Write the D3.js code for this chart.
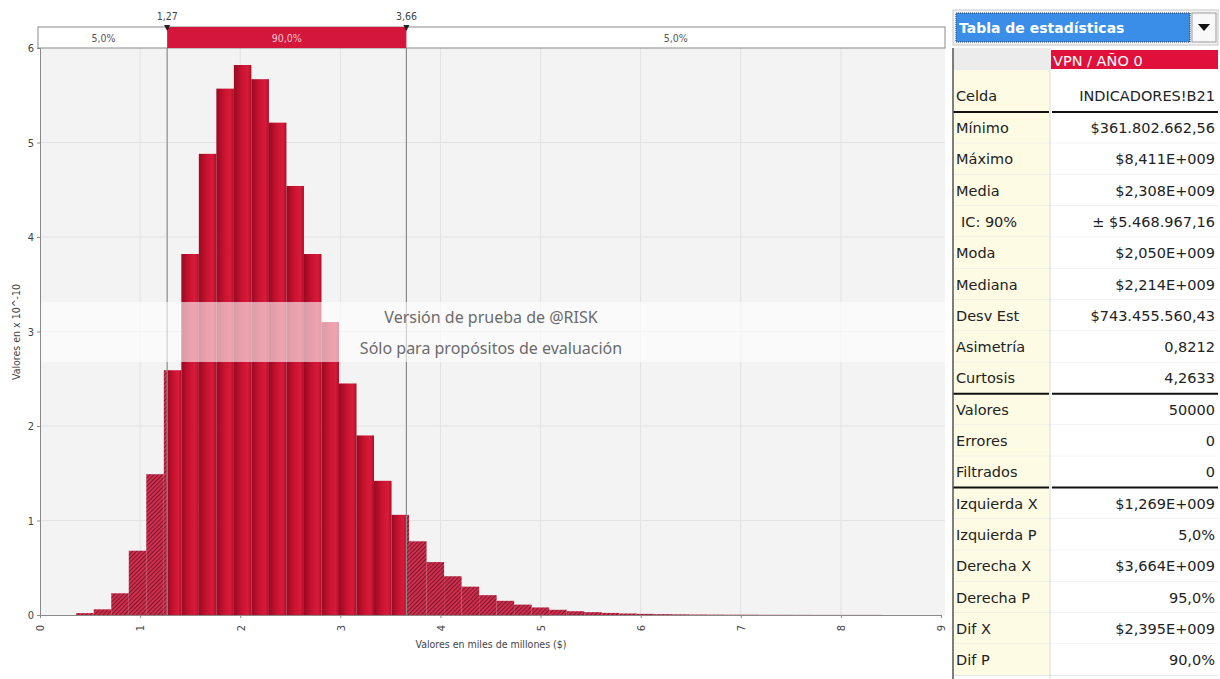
<!DOCTYPE html>
<html>
<head>
<meta charset="utf-8">
<script src="https://cdn.jsdelivr.net/npm/d3@7"></script>
<style>
body{margin:0;background:#fff;}
svg{display:block;}
</style>
</head>
<body>
<div id="chart"></div>
<script>
// histogram: min/max of the simulation and bar heights (x 10^-10)
var binMin=0.3618, binMax=8.411;
var binHeights=[0.02,0.06,0.23,0.68,1.49,2.59,3.82,4.88,5.57,5.82,
	5.67,5.21,4.54,3.82,3.10,2.45,1.90,1.42,1.06,0.78,
	0.56,0.41,0.30,0.21,0.15,0.11,0.08,0.055,0.04,0.03,
	0.022,0.016,0.012,0.009,0.007,0.005,0.004,0.003,0.003,0.002,
	0.002,0.0015,0.001,0.001,0.001,0.001];
var xTicks=[0,1,2,3,4,5,6,7,8,9];
var yTicks=[0,1,2,3,4,5,6];
var leftX=1.27, rightX=3.66;
var leftLabel="1,27", rightLabel="3,66";
var pctLabels=["5,0%","90,0%","5,0%"];
var statNames=["Celda","Mínimo","Máximo","Media","IC: 90%","Moda","Mediana","Desv Est","Asimetría","Curtosis",
	"Valores","Errores","Filtrados","Izquierda X","Izquierda P","Derecha X","Derecha P","Dif X","Dif P"];
var statValues=["INDICADORES!B21","$361.802.662,56","$8,411E+009","$2,308E+009","± $5.468.967,16","$2,050E+009","$2,214E+009","$743.455.560,43","0,8212","4,2633",
	"50000","0","0","$1,269E+009","5,0%","$3,664E+009","95,0%","$2,395E+009","90,0%"];
var seriesName="VPN / AÑO 0";

var W=1220,H=679;
var narrow="'Liberation Sans Narrow','DejaVu Sans Condensed',sans-serif";
var svg=d3.select("#chart").append("svg").attr("width",W).attr("height",H);
var defs=svg.append("defs");

var grad=defs.append("linearGradient").attr("id","barGrad").attr("x1","0").attr("x2","1").attr("y1","0").attr("y2","0");
grad.append("stop").attr("offset","0").attr("stop-color","#980a22");
grad.append("stop").attr("offset","0.45").attr("stop-color","#c91331");
grad.append("stop").attr("offset","0.8").attr("stop-color","#d81a3a");
grad.append("stop").attr("offset","1").attr("stop-color","#aa0e28");

var hatch=defs.append("pattern").attr("id","hatch").attr("patternUnits","userSpaceOnUse")
	.attr("width",3).attr("height",3).attr("patternTransform","rotate(45)");
hatch.append("rect").attr("width",3).attr("height",3).attr("fill","#d6304f");
hatch.append("line").attr("x1",0.6).attr("y1",0).attr("x2",0.6).attr("y2",3).attr("stroke","#6e1428").attr("stroke-width",1.0);

var x=d3.scaleLinear().domain([0,9]).range([40,941]);
var y=d3.scaleLinear().domain([0,6]).range([615,48]);

// plot background
svg.append("rect").attr("x",40).attr("y",48).attr("width",905).attr("height",567).attr("fill","#f3f3f3");

// grid
svg.append("g").selectAll("line").data(xTicks.slice(1,-1)).enter().append("line")
	.attr("x1",function(d){return x(d);}).attr("x2",function(d){return x(d);})
	.attr("y1",48).attr("y2",615).attr("stroke","#e2e2e2");
svg.append("g").selectAll("line").data(yTicks.slice(1,-1)).enter().append("line")
	.attr("x1",40).attr("x2",945)
	.attr("y1",function(d){return y(d);}).attr("y2",function(d){return y(d);}).attr("stroke","#e2e2e2");

// bars split at the delimiters
var binW=(binMax-binMin)/binHeights.length;
var pieces=[];
binHeights.forEach(function(h,i){
	var a=binMin+i*binW, b=a+binW;
	var cuts=[a];
	[leftX,rightX].forEach(function(c){if(c>a&&c<b)cuts.push(c);});
	cuts.push(b);
	for(var k=0;k<cuts.length-1;k++){
		var mid=(cuts[k]+cuts[k+1])/2;
		pieces.push({x0:cuts[k],x1:cuts[k+1],h:h,inside:(mid>leftX&&mid<rightX)});
	}
});
svg.append("g").selectAll("rect").data(pieces).enter().append("rect")
	.attr("x",function(d){return x(d.x0);})
	.attr("width",function(d){return x(d.x1)-x(d.x0);})
	.attr("y",function(d){return y(d.h);})
	.attr("height",function(d){return Math.max(0.8,y(0)-y(d.h));})
	.attr("fill",function(d){return d.inside?"url(#barGrad)":"url(#hatch)";});

// delimiter lines
svg.append("g").selectAll("line").data([leftX,rightX]).enter().append("line")
	.attr("x1",function(d){return x(d);}).attr("x2",function(d){return x(d);})
	.attr("y1",27).attr("y2",615).attr("stroke","#8a8a8a").attr("stroke-width",1.2);

// watermark band
svg.append("rect").attr("x",40).attr("y",302).attr("width",905).attr("height",60).attr("fill","#fff").attr("opacity",0.6);
svg.append("text").attr("x",491).attr("y",323).attr("text-anchor","middle")
	.style("font-family","'Noto Sans',sans-serif").style("font-size","16px").attr("fill","#6b6b6b")
	.text("Versión de prueba de @RISK");
svg.append("text").attr("x",491).attr("y",354).attr("text-anchor","middle")
	.style("font-family","'Noto Sans',sans-serif").style("font-size","16px").attr("fill","#6b6b6b")
	.text("Sólo para propósitos de evaluación");

// axes
var yAxis=svg.append("g").attr("transform","translate(40,0)")
	.call(d3.axisLeft(y).tickValues(yTicks).tickSize(3).tickFormat(d3.format("d")));
yAxis.select(".domain").attr("stroke","#8a8a8a");
yAxis.selectAll("line").attr("stroke","#8a8a8a");
yAxis.selectAll("text").style("font-family",narrow).style("font-size","11px").attr("fill","#444");

var xAxis=svg.append("g").attr("transform","translate(0,615)")
	.call(d3.axisBottom(x).tickValues(xTicks).tickSize(3).tickFormat(d3.format("d")));
xAxis.select(".domain").attr("stroke","#8a8a8a");
xAxis.selectAll("line").attr("stroke","#8a8a8a");
xAxis.selectAll("text").style("font-family",narrow).style("font-size","11px").attr("fill","#444")
	.attr("transform","rotate(-90)").attr("text-anchor","middle").attr("dy","0.35em").attr("y",0).attr("x",-13);

svg.append("text").attr("transform","translate(20,332) rotate(-90)").attr("text-anchor","middle")
	.style("font-family",narrow).style("font-size","10.5px").attr("fill","#444").text("Valores en x 10^-10");
svg.append("text").attr("x",491).attr("y",648).attr("text-anchor","middle")
	.style("font-family",narrow).style("font-size","10.5px").attr("fill","#444").text("Valores en miles de millones ($)");

// percentage bar on top
var segs=[{a:0,b:leftX,t:pctLabels[0],red:false},{a:leftX,b:rightX,t:pctLabels[1],red:true},{a:rightX,b:9.04,t:pctLabels[2],red:false}];
svg.append("rect").attr("x",38).attr("y",27).attr("width",907).attr("height",21).attr("fill","#fff").attr("stroke","#8a8a8a");
var segG=svg.append("g");
segG.selectAll("rect").data(segs.filter(function(d){return d.red;})).enter().append("rect")
	.attr("x",function(d){return x(d.a);}).attr("width",function(d){return x(d.b)-x(d.a);})
	.attr("y",27).attr("height",21).attr("fill","#d3163a");
segG.selectAll("text").data(segs).enter().append("text")
	.attr("x",function(d){return (Math.max(38,x(d.a))+x(d.b))/2;}).attr("y",42).attr("text-anchor","middle")
	.style("font-family",narrow).style("font-size","10.5px")
	.attr("fill",function(d){return d.red?"#f6c6cf":"#555";}).text(function(d){return d.t;});
var marks=svg.append("g").selectAll("g").data([{v:leftX,t:leftLabel},{v:rightX,t:rightLabel}]).enter().append("g");
marks.append("path").attr("d",function(d){var px=x(d.v);return "M"+(px-3)+" 25 L"+(px+3)+" 25 L"+px+" 31 Z";}).attr("fill","#222");
marks.append("text").attr("x",function(d){return x(d.v);}).attr("y",20).attr("text-anchor","middle")
	.style("font-family",narrow).style("font-size","10.5px").attr("fill","#444").text(function(d){return d.t;});

// statistics table
var tL=953,tM=1049,tR=1218;
var tbl=svg.append("g");
var tf="'DejaVu Sans',sans-serif";
// dropdown
tbl.append("rect").attr("x",tL).attr("y",10).attr("width",tR-tL).attr("height",35).attr("fill","#f4f4f4").attr("stroke","#c8c8c8");
tbl.append("rect").attr("x",956).attr("y",13).attr("width",234).attr("height",29).attr("fill","#3a8ee8").attr("stroke","#1c3f70").attr("stroke-dasharray","1,1");
tbl.append("text").attr("x",959).attr("y",33).style("font-family",tf).style("font-size","14px").style("font-weight","bold")
	.attr("fill","#fff").text("Tabla de estadísticas");
tbl.append("rect").attr("x",1192).attr("y",13).attr("width",24).attr("height",29).attr("fill","#f8f8f8").attr("stroke","#9a9a9a");
tbl.append("path").attr("d","M1198 24 L1210 24 L1204 31 Z").attr("fill","#111");

// header
tbl.append("rect").attr("x",tL).attr("y",48).attr("width",tM-tL).attr("height",22).attr("fill","#ececec");
tbl.append("rect").attr("x",tM+2).attr("y",50).attr("width",tR-tM-2).attr("height",19).attr("fill","#e0103a");
tbl.append("text").attr("x",tM+4).attr("y",65.5).style("font-family",tf).style("font-size","14.5px").attr("fill","#fff").text(seriesName);

var rowTop=function(i){return i===0?70:112+31.3*(i-1);};
var rowBot=function(i){return i===0?112:112+31.3*i;};
var rows=tbl.selectAll("g.row").data(statNames).enter().append("g").attr("class","row");
rows.append("rect").attr("x",tL).attr("y",function(d,i){return rowTop(i);}).attr("width",tM-tL)
	.attr("height",function(d,i){return rowBot(i)-rowTop(i);}).attr("fill","#fdfbe4");
rows.append("rect").attr("x",tM+2).attr("y",function(d,i){return rowTop(i);}).attr("width",tR-tM-2)
	.attr("height",function(d,i){return rowBot(i)-rowTop(i);}).attr("fill","#fff");
rows.append("line").attr("x1",tL).attr("x2",tR).attr("y1",function(d,i){return rowBot(i);}).attr("y2",function(d,i){return rowBot(i);})
	.attr("stroke","#e6e6e6");
rows.append("text").attr("x",function(d,i){return i===4?961:956;}).attr("y",function(d,i){return i===0?100.5:rowTop(i)+21;})
	.style("font-family",tf).style("font-size","14.5px").attr("fill","#222").text(function(d){return d;});
rows.append("text").attr("x",1215).attr("y",function(d,i){return i===0?100.5:rowTop(i)+21;}).attr("text-anchor","end")
	.style("font-family",tf).style("font-size","14.5px").attr("fill","#222").text(function(d,i){return statValues[i];});

// thick separators
[rowBot(0),rowBot(9),rowBot(12)].forEach(function(yy){
	tbl.append("line").attr("x1",tL).attr("x2",tM).attr("y1",yy).attr("y2",yy).attr("stroke","#111").attr("stroke-width",2);
	tbl.append("line").attr("x1",tM+3).attr("x2",tR).attr("y1",yy).attr("y2",yy).attr("stroke","#111").attr("stroke-width",2);
});
tbl.append("line").attr("x1",tM+1).attr("x2",tM+1).attr("y1",48).attr("y2",H).attr("stroke","#d8d8d8");
tbl.append("line").attr("x1",tL).attr("x2",tL).attr("y1",48).attr("y2",H).attr("stroke","#555").attr("stroke-width",1.5);
</script>
</body>
</html>
